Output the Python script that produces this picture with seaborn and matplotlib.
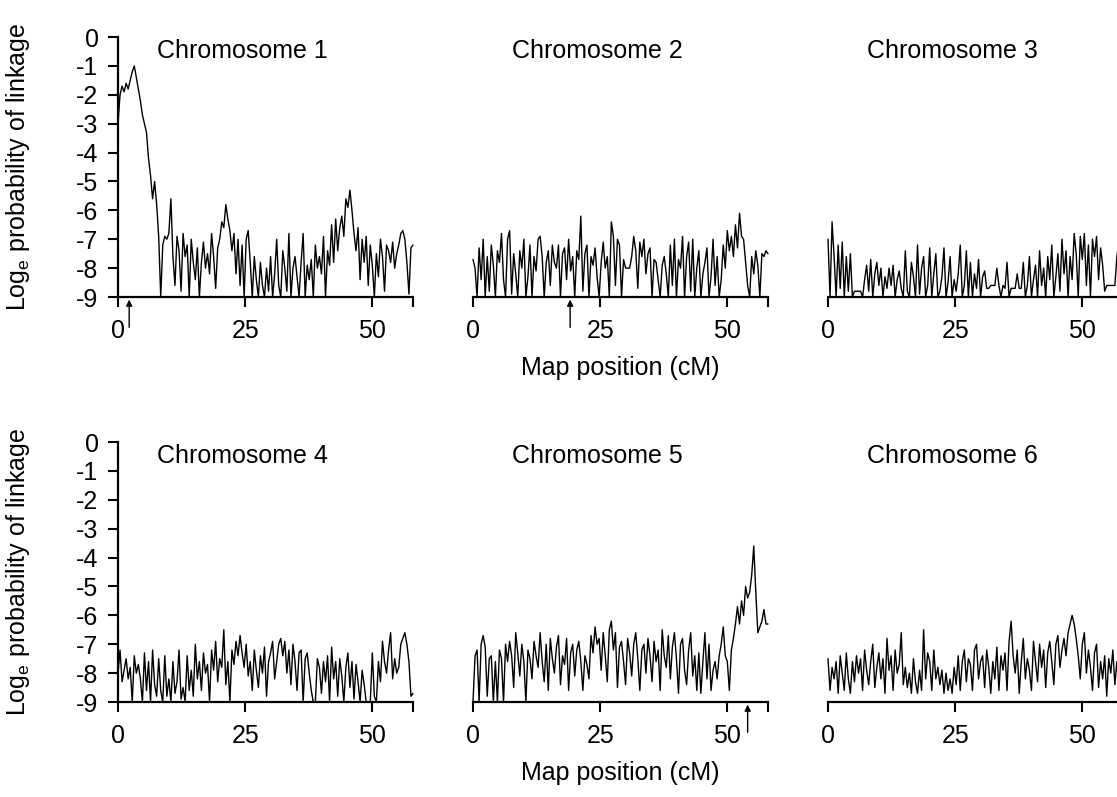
import numpy as np
import matplotlib
matplotlib.use("Agg")
import matplotlib.pyplot as plt
import seaborn as sns

# values, one point every 0.4 cM from 0 to 58 cM
chrom1 = [
    -3.0, -2.0, -1.7, -1.9, -1.6, -1.8, -1.5, -1.2, -1.0, -1.4,
    -1.8, -2.2, -2.7, -3.0, -3.3, -4.2, -4.8, -5.6, -5.0, -5.8,
    -6.9, -9.0, -7.2, -6.9, -7.0, -6.8, -5.6, -7.6, -8.6, -6.9,
    -7.4, -8.8, -6.8, -7.6, -7.2, -9.0, -7.0, -7.8, -8.4, -7.3,
    -9.0, -7.8, -7.1, -8.0, -7.5, -8.2, -6.8, -7.6, -8.7, -7.3,
    -7.0, -6.4, -6.6, -5.8, -6.3, -6.7, -7.4, -6.8, -8.2, -7.0,
    -8.6, -7.2, -9.0, -7.0, -6.7, -7.8, -9.0, -7.6, -8.4, -9.0,
    -7.8, -8.6, -9.0, -8.0, -8.8, -7.6, -9.0, -8.2, -7.0, -8.6,
    -9.0, -7.4, -8.0, -8.8, -6.8, -9.0, -8.0, -7.6, -8.3, -9.0,
    -7.8, -6.8, -9.0, -7.9, -8.4, -7.7, -9.0, -7.2, -8.0, -7.6,
    -8.2, -6.9, -9.0, -7.4, -7.9, -6.5, -7.8, -6.3, -7.4, -6.6,
    -6.2, -6.9, -5.6, -5.9, -5.3, -6.0, -6.8, -7.4, -6.6, -8.4,
    -7.0, -7.8, -6.9, -8.6, -7.2, -7.9, -9.0, -7.5, -8.3, -7.0,
    -7.6, -8.8, -7.2, -7.4, -7.8, -7.1, -8.0, -7.5, -7.2, -6.8,
    -6.7, -7.0, -7.8, -8.9, -7.3, -7.2,
]
chrom2 = [
    -7.7, -8.0, -9.0, -7.3, -8.4, -7.0, -9.0, -7.6, -8.8, -7.2,
    -7.9, -9.0, -7.4, -7.8, -6.8, -8.4, -9.0, -7.0, -6.7, -8.9,
    -7.5, -8.2, -9.0, -7.4, -8.0, -7.0, -9.0, -8.3, -7.2, -9.0,
    -7.6, -8.1, -7.0, -6.9, -7.6, -9.0, -7.8, -7.4, -8.6, -7.2,
    -7.8, -8.0, -7.2, -9.0, -7.5, -7.3, -8.4, -7.0, -8.1, -7.6,
    -9.0, -7.4, -7.7, -6.2, -8.8, -7.5, -7.2, -9.0, -7.6, -7.9,
    -7.3, -8.3, -9.0, -7.8, -7.1, -8.0, -7.6, -9.0, -6.4, -6.9,
    -8.6, -7.0, -7.2, -9.0, -7.7, -8.0, -8.0, -8.0, -7.6, -6.9,
    -7.4, -8.7, -7.1, -7.6, -7.0, -8.2, -7.5, -7.3, -9.0, -7.7,
    -7.8, -8.4, -9.0, -7.9, -7.6, -8.2, -9.0, -7.2, -8.6, -7.0,
    -9.0, -7.7, -8.0, -6.9, -9.0, -7.6, -7.1, -8.8, -7.0, -9.0,
    -8.0, -7.4, -9.0, -8.2, -7.8, -7.3, -9.0, -8.3, -7.0, -8.6,
    -7.6, -9.0, -8.4, -7.2, -8.0, -6.7, -7.4, -6.9, -7.6, -6.5,
    -7.3, -6.1, -6.9, -7.0, -7.8, -8.6, -9.0, -7.6, -8.2, -7.4,
    -7.9, -9.0, -7.5, -7.6, -7.4, -7.5,
]
chrom3 = [
    -7.0, -9.0, -6.4, -7.6, -9.0, -7.2, -8.7, -7.1, -9.0, -7.6,
    -8.8, -7.5, -9.0, -8.8, -8.8, -8.8, -8.8, -9.0, -8.4, -7.9,
    -8.8, -7.7, -9.0, -8.2, -7.8, -8.6, -8.0, -9.0, -8.3, -8.7,
    -8.0, -8.6, -7.9, -9.0, -8.4, -8.1, -8.7, -9.0, -7.4, -8.8,
    -9.0, -7.8, -8.3, -9.0, -7.2, -8.9, -8.0, -7.6, -9.0, -8.6,
    -7.3, -9.0, -8.2, -7.5, -9.0, -8.8, -8.3, -7.3, -9.0, -8.5,
    -7.6, -9.0, -8.4, -8.8, -8.2, -7.2, -9.0, -8.6, -7.4, -9.0,
    -7.8, -9.0, -8.2, -8.7, -7.7, -9.0, -8.3, -8.1, -8.7, -8.7,
    -8.6, -8.6, -8.6, -8.0, -8.6, -9.0, -8.6, -8.7, -7.8, -9.0,
    -8.7, -8.7, -8.7, -8.2, -8.7, -8.7, -7.8, -9.0, -8.6, -7.6,
    -9.0, -8.4, -7.9, -9.0, -7.4, -8.6, -8.0, -9.0, -7.6, -8.4,
    -7.2, -9.0, -8.3, -7.5, -8.8, -7.0, -8.2, -7.4, -9.0, -7.6,
    -8.4, -6.8, -7.5, -9.0, -6.9, -7.7, -6.8, -8.6, -7.2, -9.0,
    -7.0, -7.6, -6.9, -8.4, -7.3, -7.9, -8.8, -8.6, -8.6, -8.6,
    -8.6, -8.6, -7.6, -7.1, -8.4, -8.0,
]
chrom4 = [
    -8.0, -7.2, -8.3, -7.9, -7.5, -8.2, -7.8, -9.0, -7.4, -8.0,
    -7.7, -8.2, -9.0, -7.3, -8.6, -7.6, -9.0, -7.2, -8.4, -8.8,
    -7.5, -8.6, -9.0, -7.4, -8.8, -8.2, -9.0, -7.6, -8.7, -8.3,
    -7.2, -8.9, -8.5, -9.0, -7.4, -8.6, -7.9, -8.8, -7.0, -8.2,
    -7.6, -8.6, -7.3, -8.0, -7.7, -9.0, -7.2, -7.9, -6.9, -8.3,
    -7.5, -7.8, -6.5, -8.4, -7.6, -9.0, -7.2, -7.7, -6.9, -7.4,
    -6.7, -7.3, -7.8, -7.0, -8.1, -7.6, -8.6, -7.2, -7.9, -8.5,
    -7.4, -8.0, -7.1, -8.8, -7.6, -7.3, -6.9, -8.2, -7.6, -7.0,
    -6.8, -7.4, -6.9, -8.0, -7.2, -8.4, -7.0, -7.6, -8.6, -7.3,
    -7.2, -9.0, -7.5, -7.3, -8.0, -8.6, -9.0, -9.0, -7.5, -7.8,
    -8.7, -7.6, -8.3, -7.4, -9.0, -7.1, -8.2, -7.6, -8.8, -7.5,
    -8.1, -9.0, -7.8, -7.3, -8.5, -7.6, -8.9, -7.7, -8.3, -9.0,
    -7.9, -8.4, -9.0, -9.0, -9.0, -7.3, -8.8, -9.0, -7.6, -8.3,
    -6.9, -7.6, -8.0, -7.2, -6.6, -8.2, -7.5, -8.0, -7.8, -7.0,
    -6.8, -6.6, -7.0, -7.6, -8.8, -8.7,
]
chrom5 = [
    -9.0, -7.4, -7.2, -9.0, -7.0, -6.7, -7.1, -8.8, -7.5, -7.4,
    -9.0, -7.6, -9.0, -7.2, -7.5, -9.0, -7.0, -7.6, -6.9, -7.4,
    -8.5, -6.6, -7.3, -8.1, -7.0, -7.6, -9.0, -7.2, -7.5, -8.2,
    -6.9, -7.4, -7.8, -6.6, -7.6, -8.3, -7.0, -8.6, -6.8, -7.5,
    -8.0, -7.1, -6.7, -8.4, -7.4, -7.7, -6.8, -8.6, -7.3, -7.0,
    -8.1, -7.2, -6.9, -7.6, -8.6, -7.4, -7.7, -8.2, -6.7, -7.3,
    -6.4, -7.0, -6.8, -7.9, -6.6, -7.4, -8.3, -6.5, -6.2, -7.2,
    -6.6, -8.5, -7.1, -6.9, -7.6, -8.4, -6.8, -7.3, -8.1, -7.0,
    -6.6, -7.5, -8.6, -7.2, -7.0, -8.0, -6.8, -7.4, -8.3, -6.9,
    -7.6, -7.2, -8.6, -6.5, -7.4, -7.8, -6.7, -8.2, -7.1, -6.6,
    -7.5, -8.7, -7.0, -6.8, -7.9, -8.4, -7.2, -6.6, -8.1, -7.4,
    -8.6, -7.3, -8.7, -7.6, -6.6, -8.2, -7.0, -8.6, -7.9, -7.6,
    -8.2, -7.4, -7.0, -6.4, -7.4, -7.6, -8.6, -7.2, -6.8, -6.3,
    -5.7, -6.3, -5.5, -6.0, -5.0, -5.4, -5.2, -4.6, -3.6, -5.2,
    -6.6, -6.4, -6.2, -5.8, -6.3, -6.3,
]
chrom6 = [
    -7.5, -8.6, -7.8, -8.2, -7.6, -8.7, -7.4, -8.0, -8.6, -7.3,
    -8.2, -8.7, -7.6, -8.3, -7.4, -8.0, -7.5, -8.6, -7.2, -7.9,
    -8.4, -7.6, -7.0, -8.5, -7.8, -7.3, -8.2, -7.5, -8.7, -6.8,
    -7.9, -7.4, -8.6, -7.2, -8.0, -7.7, -6.6, -8.4, -7.8, -8.5,
    -8.0, -8.7, -7.5, -8.3, -8.7, -7.9, -8.6, -6.5, -8.2, -7.3,
    -7.6, -8.6, -7.2, -8.2, -7.8, -8.4, -7.9, -8.7, -8.0, -8.6,
    -8.2, -8.7, -7.8, -8.4, -7.4, -8.6, -7.6, -7.2, -8.3, -7.5,
    -7.7, -8.6, -7.2, -7.0, -8.2, -7.6, -7.4, -8.5, -7.2, -7.8,
    -8.7, -7.6, -8.2, -7.1, -8.6, -7.4, -7.9, -7.3, -8.6, -6.9,
    -6.2, -7.4, -8.0, -7.2, -8.7, -7.6, -6.8, -8.2, -7.5, -7.9,
    -8.6, -6.9, -7.6, -8.3, -7.0, -7.8, -7.2, -8.5, -7.3, -6.9,
    -7.6, -8.4, -7.0, -6.7, -7.8, -7.2, -6.8, -7.4, -6.6, -6.3,
    -6.0, -6.3, -6.8, -7.4, -8.2, -7.0, -6.6, -8.0, -7.2, -7.8,
    -8.6, -7.3, -7.0, -8.5, -7.6, -8.2, -7.4, -8.8, -7.5, -8.0,
    -7.2, -8.4, -7.6, -8.6, -7.4, -7.8,
]

series = [chrom1, chrom2, chrom3, chrom4, chrom5, chrom6]
titles = ['Chromosome 1', 'Chromosome 2', 'Chromosome 3',
          'Chromosome 4', 'Chromosome 5', 'Chromosome 6']
# position of the marker arrows (cM), None where there is none
arrows = [2.2, 19.1, None, None, 54.0, None]

y_ticks = list(range(0, -10, -1))
y_labels = ['0', '-1', '-2', '-3', '-4', '-5', '-6', '-7', '-8', '-9']
x_ticks = [0, 25, 50, 58]
x_labels = ['0', '25', '50', '']

sns.set_theme(style='ticks')
plt.rcParams['font.family'] = ['Liberation Sans', 'DejaVu Sans']
plt.rcParams['mathtext.fontset'] = 'custom'
plt.rcParams['mathtext.rm'] = 'Liberation Sans'
plt.rcParams['mathtext.default'] = 'regular'
plt.rcParams['text.color'] = 'black'
plt.rcParams['axes.labelcolor'] = 'black'
plt.rcParams['axes.edgecolor'] = 'black'
plt.rcParams['xtick.color'] = 'black'
plt.rcParams['ytick.color'] = 'black'

fig = plt.figure(figsize=(11.17, 7.97), dpi=100)

W, H = 1117.0, 797.0
col_left = [118, 473, 828]
row_bottom = [297, 702]
ax_w = 295
ax_h = 260

for i, vals in enumerate(series):
    r, c = divmod(i, 3)
    ax = fig.add_axes([col_left[c] / W, 1 - row_bottom[r] / H, ax_w / W, ax_h / H])
    pos = np.linspace(0, 58, len(vals))
    sns.lineplot(x=pos, y=vals, ax=ax, color='black', lw=1.0,
                 estimator=None, sort=False, clip_on=False)
    ax.set_xlim(0, 58)
    ax.set_ylim(-9, 0)
    ax.set_xticks(x_ticks)
    ax.set_xticklabels(x_labels)
    ax.tick_params(axis='both', direction='out', length=7, width=1.5,
                   labelsize=18, colors='black')
    ax.tick_params(axis='x', pad=9)
    ax.tick_params(axis='y', pad=7)
    sns.despine(ax=ax, left=(c != 0))
    ax.spines['bottom'].set_linewidth(1.6)
    ax.spines['left'].set_linewidth(1.6)
    if c == 0:
        ax.set_yticks(y_ticks)
        ax.set_yticklabels(y_labels)
        ax.set_ylabel('Log$_e$ probability of linkage', fontsize=18)
        ax.yaxis.set_label_coords(-0.29, 0.5)
    else:
        ax.set_yticks([])
    if c == 1:
        ax.set_xlabel('Map position (cM)', fontsize=18, labelpad=9)
    else:
        ax.set_xlabel('')
    ax.text(7.7, -0.5, titles[i], ha='left', va='center', fontsize=18)
    if arrows[i] is not None:
        ax.annotate('', xy=(arrows[i], -0.01), xycoords=ax.get_xaxis_transform(),
                    xytext=(0, -20), textcoords='offset points',
                    arrowprops=dict(arrowstyle='-|>', color='black', lw=1,
                                    mutation_scale=9, shrinkA=0, shrinkB=0))

fig.savefig('out.png', dpi=100)
